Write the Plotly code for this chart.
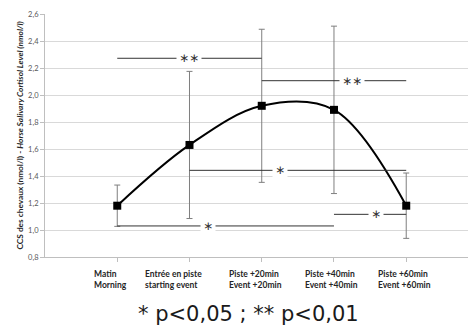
import plotly.graph_objects as go

# ---- data ----
cat_pos = [1, 2, 3, 4, 5]
cat_line1 = ["Matin", "Entrée en piste", "Piste +20min", "Piste +40min", "Piste +60min"]
cat_line2 = ["Morning", "starting event", "Event +20min", "Event +40min", "Event +60min"]
cortisol = [1.18, 1.63, 1.92, 1.89, 1.18]
sd = [0.153, 0.545, 0.567, 0.62, 0.242]

# significance brackets: (from position, to position, level, label, label position)
br_from = [1, 3, 2, 4, 1]
br_to = [3, 5, 5, 5, 4]
br_level = [2.272, 2.106, 1.442, 1.116, 1.03]
br_label = ["∗∗", "∗∗", "∗", "∗", "∗"]
br_label_pos = [2.0, 4.25, 3.25, 4.58, 2.26]

y_ticks = [0.8, 1.0, 1.2, 1.4, 1.6, 1.8, 2.0, 2.2, 2.4, 2.6]

# label horizontal offsets (styling)
label_shift = [-25, -46, -35, -31, -30]

fig = go.Figure()

fig.add_trace(go.Scatter(
    x=cat_pos, y=cortisol,
    mode="lines+markers",
    line=dict(color="black", width=2, shape="spline", smoothing=1.0),
    marker=dict(symbol="square", size=8, color="black"),
    error_y=dict(type="data", array=sd, visible=True, color="#7f7f7f", thickness=1, width=3),
    showlegend=False,
))

for f, t, lv, lab, lp in zip(br_from, br_to, br_level, br_label, br_label_pos):
    fig.add_shape(type="line", x0=f, x1=t, y0=lv, y1=lv, xref="x", yref="y",
                  line=dict(color="#333333", width=1), layer="above")
    fig.add_annotation(x=lp, y=lv, xref="x", yref="y", text=lab, showarrow=False,
                       font=dict(family="DejaVu Sans", size=12, color="#333333"),
                       bgcolor="white", borderpad=2, yshift=0)

for xp, l1, l2, sh in zip(cat_pos, cat_line1, cat_line2, label_shift):
    fig.add_annotation(x=xp, y=0, xref="x", yref="paper", yanchor="top", xanchor="left",
                       xshift=sh, yshift=-10, align="left", showarrow=False,
                       text="<b>" + l1 + "<br>" + l2 + "</b>",
                       font=dict(family="Lato", size=8.5, color="#262626"))

fig.add_annotation(x=0, y=0.5, xref="paper", yref="paper", xshift=-33,
                   text="<b>CCS des chevaux (nmol/l) - <i>Horse Salivary Cortisol Level (nmol/l)</i></b>",
                   textangle=-90, showarrow=False,
                   font=dict(family="Lato", size=8.3, color="#262626"))

fig.add_annotation(x=0, y=0, xref="paper", yref="paper", xanchor="center", yanchor="middle",
                   xshift=203, yshift=-57, showarrow=False,
                   text="* p<0,05 ; ** p<0,01",
                   font=dict(family="DejaVu Sans", size=21, color="#1a1a1a"))

fig.update_layout(
    width=468, height=329,
    margin=dict(l=45, r=0, t=14, b=72),
    plot_bgcolor="white", paper_bgcolor="white",
    separators=", ",
    xaxis=dict(range=[0, 5.855], tickvals=cat_pos, showticklabels=False,
               ticks="outside", ticklen=4, tickcolor="#bfbfbf",
               showline=True, linecolor="#bfbfbf", showgrid=False, zeroline=False),
    yaxis=dict(range=[0.8, 2.6], tickvals=y_ticks, tickformat=".1f",
               ticks="outside", ticklen=4, tickcolor="#bfbfbf",
               showline=True, linecolor="#bfbfbf", gridcolor="#d9d9d9", gridwidth=1,
               zeroline=False, tickfont=dict(family="Lato", size=7.5, color="#595959")),
)

fig.write_html("out.html", config={"displayModeBar": False},
               post_script="document.body.style.margin='0';document.body.style.overflow='hidden';")
